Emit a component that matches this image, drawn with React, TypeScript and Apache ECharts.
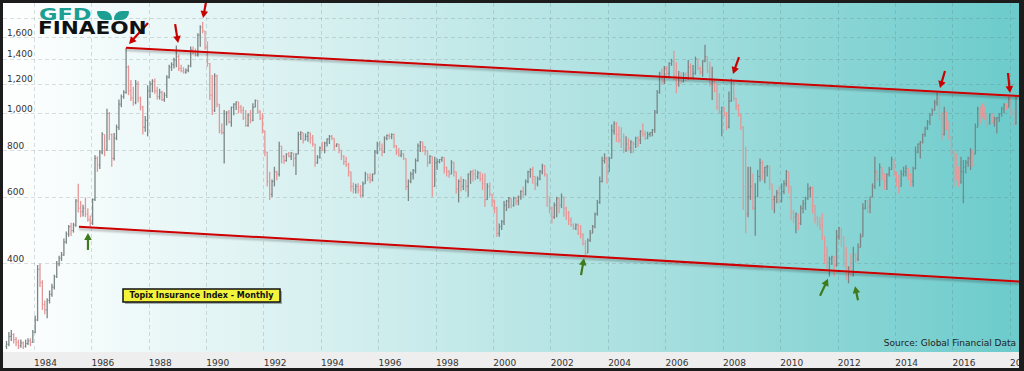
import React, { useEffect, useRef } from 'react';
import * as echarts from 'echarts';

// ---- Data: Topix Insurance Index, monthly, Jan 1983 – Mar 2018 ----
const START_YEAR = 1983;
const FIRST_OPEN = 240;

const closes = [
  243,255,258,250,246,241,245,240,244,248,246,262,
  282,385,355,310,300,318,330,345,368,398,412,420,
  455,478,500,488,505,585,560,548,560,540,522,510,
  590,760,730,790,880,800,1000,880,760,860,920,1060,
  1110,1140,1330,1150,1100,1070,1200,1100,1040,920,960,1150,
  1200,1220,1150,1110,1140,1090,1120,1250,1330,1350,1390,1420,
  1320,1300,1290,1305,1340,1480,1460,1430,1620,1700,1660,1500,
  1360,1120,1020,1260,1060,900,890,1000,1010,950,1040,1060,
  1075,1040,1020,975,930,990,960,1040,1085,1010,970,900,
  790,660,610,660,700,690,820,770,750,780,770,785,
  760,780,880,890,850,870,890,860,830,740,765,810,
  800,835,855,870,860,820,830,800,770,745,730,700,
  640,630,640,625,605,650,690,675,665,690,790,830,
  805,790,860,875,870,880,820,790,775,780,760,640,
  660,690,705,750,820,840,815,795,740,770,640,740,
  745,755,765,720,700,690,740,700,630,660,640,665,
  640,690,700,690,680,695,670,650,590,640,610,585,
  560,480,500,515,570,585,595,570,595,585,600,620,
  610,660,700,710,680,650,670,700,725,690,600,560,
  530,570,595,570,600,560,545,520,505,495,505,480,
  475,450,425,460,480,500,540,580,660,750,760,700,
  760,900,940,880,850,830,800,830,810,840,830,860,
  850,895,880,860,880,890,905,1010,1140,1280,1220,1320,
  1280,1360,1380,1260,1200,1250,1220,1270,1240,1330,1240,1280,
  1400,1320,1290,1380,1420,1300,1200,1220,1150,1040,1010,1040,
  990,920,1080,1220,1100,1050,990,920,640,540,600,640,
  560,600,680,740,700,720,725,650,590,600,615,585,
  620,650,700,640,545,530,540,510,560,575,595,630,
  635,570,525,515,505,470,420,400,410,415,395,470,
  495,470,420,380,388,372,420,410,440,470,560,585,
  565,600,640,700,670,720,690,660,690,710,755,700,
  660,640,690,700,715,690,660,715,790,830,840,880,
  915,950,990,1020,1070,1100,990,880,1010,950,870,790,
  700,680,660,700,720,740,760,790,780,920,1030,1000,
  985,970,940,990,950,970,975,1000,1030,1055,1040,1090,
  1010,940,1100,
];

const highs = [
  248,262,265,260,254,250,250,247,250,252,252,265,
  290,395,398,360,318,322,338,352,372,405,418,428,
  465,485,505,512,512,592,650,585,572,598,560,535,
  595,775,770,800,892,862,1030,1010,885,888,935,1090,
  1125,1155,1495,1345,1230,1180,1230,1220,1110,1050,985,1190,
  1220,1235,1240,1180,1165,1150,1140,1265,1350,1370,1410,1520,
  1440,1350,1330,1320,1350,1510,1510,1490,1637,1720,1755,1660,
  1556,1365,1267,1281,1270,1060,942,1023,1015,1023,1044,1066,
  1077,1066,1055,1044,1023,1002,1023,1066,1091,1087,1023,1002,
  900,790,700,668,722,705,842,820,775,784,790,790,
  784,784,895,897,890,886,895,890,877,817,775,817,
  842,842,860,877,877,860,833,830,800,775,768,740,
  700,655,650,652,645,660,700,693,693,693,800,842,
  845,833,870,880,886,886,886,825,810,800,785,760,
  668,700,712,760,833,845,842,820,800,775,770,768,
  760,757,768,765,722,708,752,745,700,668,680,670,
  665,693,705,710,712,705,700,693,693,652,655,610,
  590,565,510,521,585,589,600,595,601,600,605,625,
  640,668,705,715,722,680,680,708,735,730,690,600,
  565,580,601,595,613,600,565,550,530,510,510,510,
  505,480,460,465,490,505,545,589,680,768,784,768,
  768,935,955,950,925,920,885,870,860,850,842,868,
  870,904,942,900,895,892,910,1023,1156,1294,1320,1340,
  1340,1370,1400,1470,1370,1300,1290,1290,1290,1389,1362,1348,
  1419,1400,1334,1389,1525,1420,1375,1334,1235,1204,1133,1044,
  1044,1010,1145,1240,1230,1100,1060,1000,925,817,722,722,
  693,652,708,760,750,722,730,725,650,605,626,639,
  652,665,708,700,640,554,545,535,570,589,601,652,
  640,640,570,535,530,543,470,442,416,418,418,490,
  500,495,470,442,392,424,442,425,451,480,577,589,
  590,601,652,768,708,737,720,693,693,722,768,755,
  700,686,708,722,730,715,693,722,817,833,845,886,
  923,962,1002,1033,1087,1140,1120,1010,1044,1012,950,870,
  800,784,722,768,752,752,768,810,800,942,1044,1044,
  1066,1050,1002,1002,1002,982,980,1002,1044,1066,1066,1110,
  1115,1030,1112,
];

const lows = [
  236,240,248,244,240,236,238,236,238,242,240,245,
  260,280,345,300,292,285,312,325,340,365,392,405,
  418,450,470,472,482,500,545,530,532,530,515,500,
  505,585,700,712,780,770,795,850,722,750,850,905,
  1040,1095,1130,1120,1080,1050,1060,1070,1020,880,895,870,
  1100,1140,1130,1090,1090,1080,1075,1100,1240,1300,1320,1330,
  1300,1290,1280,1278,1290,1330,1440,1420,1420,1508,1637,1478,
  1334,1087,992,1010,1040,886,880,737,930,942,923,990,
  1023,1002,1002,962,923,923,942,955,1040,1002,962,886,
  770,640,589,600,640,665,680,737,735,745,765,752,
  722,686,780,851,833,851,842,833,817,722,735,760,
  795,784,817,830,851,800,815,784,752,730,722,680,
  620,613,613,613,598,601,652,662,652,660,690,780,
  795,770,785,850,855,855,810,776,768,765,752,626,
  585,652,668,693,745,790,790,775,722,735,601,640,
  708,737,745,693,680,675,690,680,613,580,620,626,
  620,601,650,660,665,670,660,626,565,590,601,565,
  543,470,470,490,505,550,560,560,565,570,570,590,
  600,605,652,675,650,626,640,665,690,680,565,543,
  510,525,530,543,560,531,521,505,500,490,490,475,
  465,445,414,430,455,480,495,535,575,655,737,650,
  700,760,880,840,835,810,784,790,800,784,784,810,
  815,830,868,851,855,868,870,890,1000,1130,1200,1200,
  1240,1240,1340,1230,1133,1180,1200,1210,1220,1230,1230,1235,
  1270,1307,1270,1254,1370,1281,1180,1087,1140,1023,1002,870,
  982,904,915,1075,1080,1023,982,904,554,480,530,589,
  554,473,600,660,665,652,680,626,554,543,577,577,
  580,610,640,613,521,510,480,490,505,543,554,589,
  600,543,510,500,490,460,399,383,368,395,368,391,
  461,442,391,361,353,368,368,400,405,440,470,555,
  543,543,600,630,660,640,665,626,626,680,708,680,
  639,613,640,680,680,665,639,639,710,784,760,833,
  868,904,933,990,1020,1050,960,851,875,904,851,768,
  639,665,639,650,577,693,722,708,722,780,940,942,
  975,962,923,935,942,923,886,950,982,1002,1023,1044,
  982,923,935,
];

// axis ticks / labels
const yGridValues = [400, 600, 800, 1000, 1200, 1400, 1600, 1800];
const yLabelValues = [400, 600, 800, 1000, 1200, 1400, 1600];
const xTickYears = [1984, 1986, 1988, 1990, 1992, 1994, 1996, 1998, 2000, 2002, 2004, 2006, 2008, 2010, 2012, 2014, 2016, 2018];

// trend channel: [year, index level]
const upperTrend = [[1987.205, 1499], [2018.313, 1114]];
const lowerTrend = [[1985.568, 500], [2018.313, 357]];

// annotation arrows: tip in [year, level]
const redArrowTips = [[1987.31, 1533], [1989.02, 1542], [1989.89, 1798], [2008.35, 1275], [2015.56, 1170], [2018.0, 1135]];
const greenArrowTips = [[1985.88, 481], [2003.16, 412], [2011.66, 363], [2012.6, 347]];

const FONT = '"DejaVu Sans", Verdana, sans-serif';
const UP = '#7b8686';
const DOWN = '#e59797';

function buildOhlc() {
  const out: number[][] = [];
  for (let i = 0; i < closes.length; i++) {
    const open = i === 0 ? FIRST_OPEN : closes[i - 1];
    const c = closes[i];
    const h = Math.max(highs[i], open, c);
    const l = Math.min(lows[i], open, c);
    out.push([START_YEAR + (i + 0.5) / 12, open, h, l, c]);
  }
  return out;
}

function arrowParts(tip: number[], tailOff: number[], color: string) {
  const x2 = tip[0], y2 = tip[1];
  const x1 = x2 + tailOff[0], y1 = y2 + tailOff[1];
  const dx = x2 - x1, dy = y2 - y1;
  const len = Math.hypot(dx, dy);
  const ux = dx / len, uy = dy / len;
  const headLen = 7, headW = 3.8;
  const bx = x2 - ux * headLen, by = y2 - uy * headLen;
  const px = -uy, py = ux;
  return [
    { type: 'line', shape: { x1, y1, x2: bx + ux * 1, y2: by + uy * 1 }, style: { stroke: color, lineWidth: 2.2 }, z: 10 },
    { type: 'polygon', shape: { points: [[x2, y2], [bx + px * headW, by + py * headW], [bx - px * headW, by - py * headW]] }, style: { fill: color }, z: 10 },
  ];
}

export default function App() {
  const ref = useRef<HTMLDivElement>(null);
  useEffect(() => {
    const chart = echarts.init(ref.current!, null, { renderer: 'svg' });
    const bg = new echarts.graphic.LinearGradient(0, 0, 1, 0, [
      { offset: 0, color: '#ffffff' },
      { offset: 0.35, color: '#d2eeee' },
      { offset: 0.68, color: '#a2dddd' },
      { offset: 1, color: '#6ccbcb' },
    ]);
    const option: any = {
      animation: false,
      backgroundColor: '#eeeeee',
      grid: {
        left: 0, right: 0, top: 0, bottom: 16,
        show: true, backgroundColor: bg, borderWidth: 0,
        outerBoundsMode: 'none', containLabel: false,
      },
      xAxis: {
        type: 'value', min: 1982.92, max: 2018.313,
        axisLine: { show: false },
        axisTick: { show: false, customValues: xTickYears },
        axisLabel: {
          customValues: xTickYears, formatter: (v: number) => String(v),
          align: 'left', margin: 6, color: '#333', fontSize: 9, fontFamily: FONT,
        },
        splitLine: { show: true, lineStyle: { color: 'rgba(90,110,110,0.22)', type: [4, 3], width: 1 } },
      },
      yAxis: {
        type: 'log', logBase: 10, min: 231.7, max: 1971.6,
        axisLine: { show: false },
        axisTick: { show: false, customValues: yGridValues },
        axisLabel: {
          customValues: yLabelValues, inside: true, margin: 4,
          formatter: (v: number) => Math.round(v).toLocaleString('en-US'),
          verticalAlign: 'bottom', color: '#333', fontSize: 9, fontFamily: FONT,
        },
        splitLine: { show: true, lineStyle: { color: 'rgba(90,110,110,0.22)', type: [4, 3], width: 1 } },
      },
      series: [
        {
          type: 'custom',
          z: 2,
          clip: true,
          encode: { x: 0, y: [1, 2, 3, 4] },
          data: buildOhlc(),
          renderItem: (_p: any, api: any) => {
            const x = api.value(0), o = api.value(1), h = api.value(2), l = api.value(3), c = api.value(4);
            const top = api.coord([x, h]);
            const bot = api.coord([x, l]);
            const po = api.coord([x, o]);
            const pc = api.coord([x, c]);
            const color = c >= o ? UP : DOWN;
            const style = { stroke: color, lineWidth: 1.3 };
            return {
              type: 'group',
              children: [
                { type: 'line', shape: { x1: top[0], y1: top[1], x2: bot[0], y2: bot[1] }, style },
                { type: 'line', shape: { x1: po[0] - 1, y1: po[1], x2: po[0], y2: po[1] }, style: { stroke: color, lineWidth: 1 } },
                { type: 'line', shape: { x1: pc[0], y1: pc[1], x2: pc[0] + 1, y2: pc[1] }, style: { stroke: color, lineWidth: 1 } },
              ],
            };
          },
        },
        {
          type: 'line', data: upperTrend, symbol: 'none', z: 5, silent: true,
          lineStyle: { color: '#cc0000', width: 2, shadowColor: 'rgba(0,0,0,0.3)', shadowBlur: 2, shadowOffsetY: 2 },
        },
        {
          type: 'line', data: lowerTrend, symbol: 'none', z: 5, silent: true,
          lineStyle: { color: '#cc0000', width: 2, shadowColor: 'rgba(0,0,0,0.3)', shadowBlur: 2, shadowOffsetY: 2 },
        },
      ],
    };
    chart.setOption(option);

    const toPx = (p: number[]) => chart.convertToPixel({ gridIndex: 0 }, p) as number[];
    const redTails = [[19, -21], [-3, -19], [4, -22], [6, -17], [5, -17], [-2, -20]];
    const greenTails = [[0, 17], [-3, 17], [-8, 17], [3, 14]];
    const graphics: any[] = [];
    redArrowTips.forEach((t, k) => graphics.push(...arrowParts(toPx(t), redTails[k], '#c80000')));
    greenArrowTips.forEach((t, k) => graphics.push(...arrowParts(toPx(t), greenTails[k], '#3f7a1c')));

    // logo
    graphics.push(
      { type: 'text', x: 36, y: 4, scaleX: 1.5, z: 20, style: { text: 'GFD', fill: '#1c9e93', font: `bold 15px ${FONT}` } },
      { type: 'rect', z: 20, shape: { x: 94, y: 8, width: 15, height: 9, r: [1, 8, 1, 8] }, style: { fill: '#1c9e93' } },
      { type: 'rect', z: 20, shape: { x: 111, y: 8, width: 15, height: 9, r: [8, 1, 8, 1] }, style: { fill: '#1c9e93' } },
      { type: 'text', x: 35, y: 17, scaleX: 1.27, z: 20, style: { text: 'FINAEON', fill: '#111111', font: `bold 17px ${FONT}` } },
    );
    // title box
    graphics.push(
      { type: 'rect', z: 20, shape: { x: 122, y: 288, width: 157, height: 13 }, style: { fill: 'rgba(0,0,0,0.3)' } },
      { type: 'rect', z: 21, shape: { x: 120, y: 286, width: 157, height: 13 }, style: { fill: '#f3f33c', stroke: '#111111', lineWidth: 1.5 } },
      { type: 'text', z: 22, x: 198.5, y: 292.8, style: { text: 'Topix Insurance Index - Monthly', fill: '#111', font: `bold 8px ${FONT}`, align: 'center', verticalAlign: 'middle' } },
    );
    // source
    graphics.push(
      { type: 'text', z: 22, x: 1013, y: 340, style: { text: 'Source: Global Financial Data', fill: '#222', font: `9px ${FONT}`, align: 'right', verticalAlign: 'middle' } },
    );
    chart.setOption({ graphic: graphics });
    return () => chart.dispose();
  }, []);
  return (
    <div style={{ position: 'absolute', left: 0, top: 0, width: 1024, height: 371, background: '#1c1c1c' }}>
      <div ref={ref} style={{ position: 'absolute', left: 3, top: 3, width: 1016, height: 365 }} />
    </div>
  );
}
